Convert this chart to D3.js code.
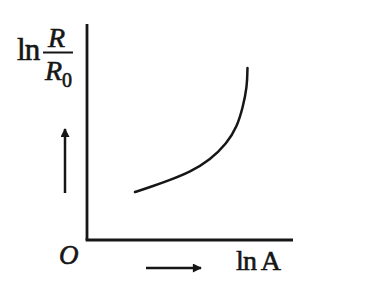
<!DOCTYPE html>
<html lang="en">
<head>
<meta charset="utf-8">
<title>ln R/R0 vs ln A</title>
<script src="https://d3js.org/d3.v7.min.js"></script>
<style>
  body { margin: 0; background: #fff; }
  text { font-family: "Liberation Serif", "DejaVu Serif", serif; fill: #161616; stroke: #161616; stroke-width: 0.6px; }
</style>
</head>
<body>
<div id="chart"></div>
<script>
// curve, in arbitrary axis units (0..100 each way)
var lnA   = [23.3, 30.6, 40.3, 50.0, 59.7, 68.0, 72.8, 75.7, 77.7, 77.9];
var lnRR0 = [22.2, 24.5, 27.8, 31.5, 37.0, 44.9, 52.3, 61.6, 70.8, 79.6];

var width = 387, height = 299;
var svg = d3.select("#chart").append("svg")
    .attr("width", width)
    .attr("height", height);

var x = d3.scaleLinear().domain([0, 100]).range([87, 293]);
var y = d3.scaleLinear().domain([0, 100]).range([240, 24]);

var ink = "#161616";

// axes (plain lines, no ticks)
svg.append("line")
  .attr("x1", x(0)).attr("y1", y(0))
  .attr("x2", x(0)).attr("y2", y(100))
  .attr("stroke", ink).attr("stroke-width", 2.8);
svg.append("line")
  .attr("x1", x(0) - 1.4).attr("y1", y(0))
  .attr("x2", x(100)).attr("y2", y(0))
  .attr("stroke", ink).attr("stroke-width", 2.8);

var pts = lnA.map(function(d, i) { return [d, lnRR0[i]]; });
var line = d3.line()
    .x(function(d) { return x(d[0]); })
    .y(function(d) { return y(d[1]); })
    .curve(d3.curveBasis);

svg.append("path")
  .datum(pts)
  .attr("d", line)
  .attr("fill", "none")
  .attr("stroke", ink)
  .attr("stroke-width", 2.5)
  .attr("stroke-linecap", "round");

// arrow heads
var defs = svg.append("defs");
defs.append("marker")
  .attr("id", "head")
  .attr("viewBox", "0 0 10 10")
  .attr("refX", 9).attr("refY", 5)
  .attr("markerWidth", 4).attr("markerHeight", 3.6)
  .attr("orient", "auto")
  .append("path")
  .attr("d", "M0,0 L10,5 L0,10 z")
  .attr("fill", ink);

svg.append("line")
  .attr("x1", 65).attr("y1", 193)
  .attr("x2", 65).attr("y2", 129)
  .attr("stroke", ink).attr("stroke-width", 2.5)
  .attr("marker-end", "url(#head)");
svg.append("line")
  .attr("x1", 146).attr("y1", 268)
  .attr("x2", 201).attr("y2", 268)
  .attr("stroke", ink).attr("stroke-width", 2.5)
  .attr("marker-end", "url(#head)");

// labels
svg.append("text")
  .attr("x", 59).attr("y", 264)
  .style("font-size", "27px").style("font-style", "italic")
  .text("O");

svg.append("text")
  .attr("x", 236).attr("y", 270)
  .style("font-size", "28px")
  .style("letter-spacing", "-0.8px")
  .text("ln A");

svg.append("text")
  .attr("x", 17).attr("y", 60)
  .style("font-size", "31px")
  .style("letter-spacing", "-0.8px")
  .text("ln");
svg.append("text")
  .attr("x", 48).attr("y", 47)
  .style("font-size", "28px").style("font-style", "italic")
  .text("R");
svg.append("line")
  .attr("x1", 43).attr("y1", 52.5)
  .attr("x2", 73).attr("y2", 52.5)
  .attr("stroke", ink).attr("stroke-width", 2);
var den = svg.append("text")
  .attr("x", 45).attr("y", 80)
  .style("font-size", "28px").style("font-style", "italic");
den.append("tspan").text("R");
den.append("tspan")
  .attr("dy", 7)
  .style("font-size", "20px").style("font-style", "normal")
  .text("0");
</script>
</body>
</html>
